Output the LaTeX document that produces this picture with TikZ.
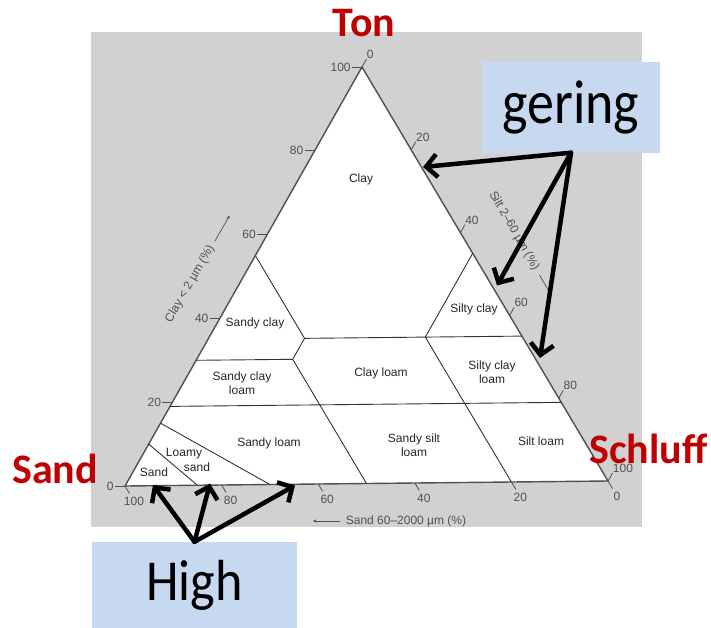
\documentclass[tikz,border=0pt]{standalone}
\usepackage{fontspec}
\usepackage{graphicx}
\setmainfont{Liberation Sans}
\newfontfamily\calibfont{Carlito}
\usetikzlibrary{arrows.meta}
\definecolor{scangray}{RGB}{209,209,209}
\definecolor{edgegray}{RGB}{80,80,80}
\definecolor{tonred}{RGB}{192,0,0}
\definecolor{boxblue}{RGB}{198,217,240}

\begin{document}
\begin{tikzpicture}[x=1pt,y=-1pt,
  region/.style={font=\fontsize{12}{14.5}\selectfont,text=black!85,align=center,inner sep=0pt},
  ticklab/.style={font=\fontsize{12}{13}\selectfont,text=edgegray,inner sep=0pt},
  tick/.style={draw=edgegray,line width=0.8pt},
  bound/.style={draw=black!80,line width=0.9pt},
  axisarrow/.style={draw=edgegray,line width=0.7pt,-{Stealth[length=4pt,width=3pt]}},
  redlabel/.style={font=\calibfont\bfseries\fontsize{42}{42}\selectfont,text=tonred,anchor=base,inner sep=0pt},
  bluebox/.style={fill=boxblue,inner sep=0pt},
  pointer/.style={-{Straight Barb[length=11pt,width=23pt]},line width=4.5pt,line cap=round,line join=round}
]
\useasboundingbox (0,0) rectangle (711,627);
\fill[scangray] (91,32) rectangle (642,527);

% corners of the triangle
\coordinate (S) at (125,486);
\coordinate (L) at (608,481);
\coordinate (C) at (362,67);
\draw[edgegray,line width=1.4pt,fill=white,line join=round] (S) -- (C) -- (L) -- cycle;

% scales
\foreach \k in {0,20,...,100}{
  \pgfmathsetmacro\a{\k/100}
  \pgfmathsetmacro\r{1-\a}
  \coordinate (lt\k) at (barycentric cs:C=\a,S=\r);
  \coordinate (rt\k) at (barycentric cs:C=\r,L=\a);
  \coordinate (bt\k) at (barycentric cs:S=\a,L=\r);
  \draw[tick] (lt\k) -- ++(-10,0) node[ticklab,anchor=east,xshift=-1pt] (ltl\k) {\k};
  \draw[tick] (rt\k) -- ++(4.5,-8) node[ticklab,anchor=south west] (rtl\k) {\k};
  \draw[tick] (bt\k) -- ++(4.5,7.5);
  \node[ticklab] (btl\k) at ([shift={(9,15)}]bt\k) {\k};
}

\node[ticklab,rotate=60] (claytitle) at (190,284) {Clay < 2 µm (\%)};
\draw[axisarrow] ([shift={(3,-5)}]claytitle.east) -- ++(15,-26);
\node[ticklab,rotate=-60] (silttitle) at (514,231) {Silt 2--60 µm (\%)};
\draw[axisarrow] ([shift={(3,5)}]silttitle.east) -- ++(11,19);
\node[ticklab] (sandtitle) at (406,521) {Sand 60--2000 µm (\%)};
\draw[axisarrow] ([xshift=-6pt]sandtitle.west) -- ++(-27,0);

% class boundaries (weights: clay C, silt L, sand S)
\draw[bound] (barycentric cs:C=.55,S=.45) -- (barycentric cs:C=.35,L=.2,S=.45)
  -- (barycentric cs:C=.3,L=.2,S=.5) -- (barycentric cs:L=.5,S=.5);
\draw[bound] (barycentric cs:C=.35,L=.2,S=.45) -- (barycentric cs:C=.35,L=.45,S=.2) -- (barycentric cs:C=.35,L=.65);
\draw[bound] (barycentric cs:C=.55,L=.45) -- (barycentric cs:C=.35,L=.45,S=.2) -- (barycentric cs:L=.8,S=.2);
\draw[bound] (barycentric cs:C=.3,S=.7) -- (barycentric cs:C=.3,L=.2,S=.5);
\draw[bound] (barycentric cs:C=.19,S=.81) -- (barycentric cs:C=.19,L=.81);
\draw[bound] (barycentric cs:C=.1,S=.9) -- (barycentric cs:L=.15,S=.85);
\draw[bound] (barycentric cs:C=.15,S=.85) -- (barycentric cs:L=.3,S=.7);

\node[region] (clay) at (361,179) {Clay};
\node[region] (sandyclay) at (255,323) {Sandy clay};
\node[region] (sandyclayloam) at (242,383) {Sandy clay\\loam};
\node[region] (sandyloam) at (269,443) {Sandy loam};
\node[region,align=left] (loamysand) at (188,460) {Loamy\\\hspace*{1.5em}sand};
\node[region] (sand) at (154,472) {Sand};
\node[region] (clayloam) at (381,373) {Clay loam};
\node[region] (siltyclay) at (474,309) {Silty clay};
\node[region] (siltyclayloam) at (492,372) {Silty clay\\loam};
\node[region] (sandysiltloam) at (414,445) {Sandy silt\\loam};
\node[region] (siltloam) at (541,441) {Silt loam};

% overlay
\node[redlabel] (ton) at (364,36.7) {Ton};
\node[redlabel] (sandlab) at (55,483) {Sand};
\node[redlabel] (schluff) at (648.5,463) {Schluff};

\node[bluebox,minimum width=178pt,minimum height=91pt] (gering) at (571,107)
  {\calibfont\fontsize{62}{62}\selectfont\scalebox{0.87}[1]{gering}};
\node[bluebox,minimum width=205pt,minimum height=86pt] (high) at (194.5,585)
  {\calibfont\fontsize{58}{58}\selectfont\scalebox{0.9}[1]{High}};

\coordinate (g1) at (423,167);
\coordinate (g2) at (497,285.5);
\coordinate (g3) at (540,358);
\coordinate (h1) at (153,485);
\coordinate (h2) at (210,483.5);
\coordinate (h3) at (295,485.5);
\foreach \t in {g1,g2,g3}
  \draw[pointer] (gering.south) -- (\t);
\foreach \t in {h1,h2,h3}
  \draw[pointer] (high.north) -- (\t);
\end{tikzpicture}
\end{document}
